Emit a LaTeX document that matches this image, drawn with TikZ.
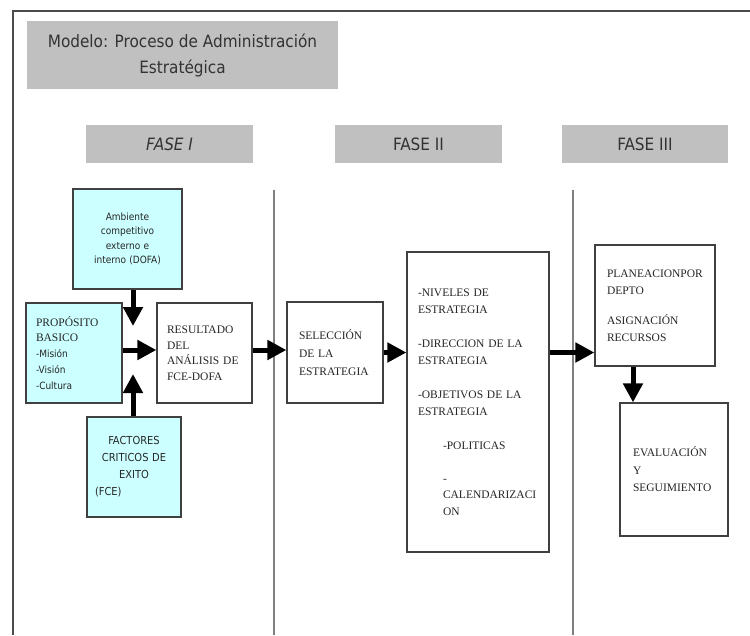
\documentclass[tikz,border=0pt]{standalone}
\usepackage{fontspec}
\setmainfont{Liberation Serif}
\newfontfamily\tahoma{DejaVu Sans Condensed}
\usetikzlibrary{arrows.meta,calc}
\definecolor{fasegray}{HTML}{C0C0C0}
\definecolor{lightcyan}{HTML}{CCFFFF}
\definecolor{boxline}{HTML}{404040}

\begin{document}
\begin{tikzpicture}[x=1pt, y=-1pt,
  header/.style={rectangle, fill=fasegray, inner sep=0pt, align=center, text=black!80, font=\tahoma\fontsize{17}{26}\selectfont},
  cyanbox/.style={rectangle, draw=boxline, line width=1.2pt, fill=lightcyan, inner xsep=8pt, align=center, text=black!85, font=\tahoma\fontsize{10}{14.5}\selectfont},
  whitebox/.style={rectangle, draw=boxline, line width=1.2pt, fill=white, align=left, text=black!85, font=\fontsize{11.5}{15.5}\selectfont},
  bigarrow/.style={-{Triangle[length=19pt,width=19pt]}, line width=5pt, black},
  divider/.style={draw=gray, line width=1.5pt}]
\useasboundingbox (0,0) rectangle (750,635);
\draw[black!70, line width=2pt] (750,11) -- (13,11) -- (13,635);
\draw[divider] (274,190) -- (274,635);
\draw[divider] (573,190) -- (573,635);

\node[header, minimum width=311pt, minimum height=68pt] (titulo) at (182.5,55) {Modelo: Proceso de Administración\\Estratégica};
\node[header, minimum width=167pt, minimum height=38pt] (fase1) at (169.5,144) {\itshape FASE I};
\node[header, minimum width=167pt, minimum height=38pt] (fase2) at (418.5,144) {FASE II};
\node[header, minimum width=166pt, minimum height=38pt] (fase3) at (645,144) {FASE III};

\node[cyanbox, text width=93pt, minimum height=100pt] (ambiente) at (127.5,239) {Ambiente\\competitivo\\externo e\\interno (DOFA)};
\node[cyanbox, text width=78pt, minimum height=100pt, font=\tahoma\fontsize{11}{17}\selectfont] (factores) at (134,467) {FACTORES\\CRITICOS DE\\EXITO\\\hbox to \hsize{(FCE)\hfil}};
\node[whitebox, fill=lightcyan, text width=76pt, inner xsep=10pt, minimum height=100pt] (proposito) at (74,353) {PROPÓSITO\\BASICO\\{\tahoma\fontsize{10}{16}\selectfont -Misión\\-Visión\\-Cultura}};
\node[whitebox, text width=75pt, inner xsep=10pt, minimum height=100pt] (resultado) at (204.5,353) {RESULTADO\\DEL\\ANÁLISIS DE\\FCE-DOFA};
\node[whitebox, text width=72pt, inner xsep=12pt, minimum height=101pt, font=\fontsize{11.5}{18}\selectfont] (seleccion) at (335,352.5) {SELECCIÓN\\DE LA\\ESTRATEGIA};
\node[whitebox, text width=120pt, inner xsep=11pt, minimum height=300pt, font=\fontsize{11.5}{16.5}\selectfont] (niveles) at (478,402) {-NIVELES DE\\ESTRATEGIA\\[18pt]-DIRECCION DE LA\\ESTRATEGIA\\[18pt]-OBJETIVOS DE LA\\ESTRATEGIA\\[18pt]\hspace*{25pt}-POLITICAS\\[16pt]\hspace*{25pt}-\\\hspace*{25pt}CALENDARIZACI\\\hspace*{25pt}ON};
\node[whitebox, text width=96pt, inner xsep=12pt, minimum height=121pt, font=\fontsize{11.5}{16.5}\selectfont] (planeacion) at (655,305.5) {PLANEACIONPOR\\DEPTO\\[14pt]ASIGNACIÓN\\RECURSOS};
\node[whitebox, text width=82pt, inner xsep=13pt, minimum height=133pt, font=\fontsize{11.5}{17.5}\selectfont] (evaluacion) at (674,469.5) {EVALUACIÓN\\Y\\SEGUIMIENTO};

\coordinate (hub) at (133,350);
\draw[bigarrow] (ambiente.south -| hub) -- ([yshift=24pt]hub);
\draw[bigarrow] (factores.north -| hub) -- ([yshift=-24pt]hub);
\draw[bigarrow] (proposito.east |- hub) -- (resultado.west |- hub);
\draw[bigarrow] (resultado.east |- hub) -- (seleccion.west |- hub);
\draw[bigarrow] (seleccion.east) -- (seleccion.east -| niveles.west);
\draw[bigarrow] (seleccion.east -| niveles.east) -- (seleccion.east -| planeacion.west);
\draw[bigarrow] ([xshift=-22pt]planeacion.south) -- ([xshift=-22pt]planeacion.south |- evaluacion.north);
\end{tikzpicture}
\end{document}
